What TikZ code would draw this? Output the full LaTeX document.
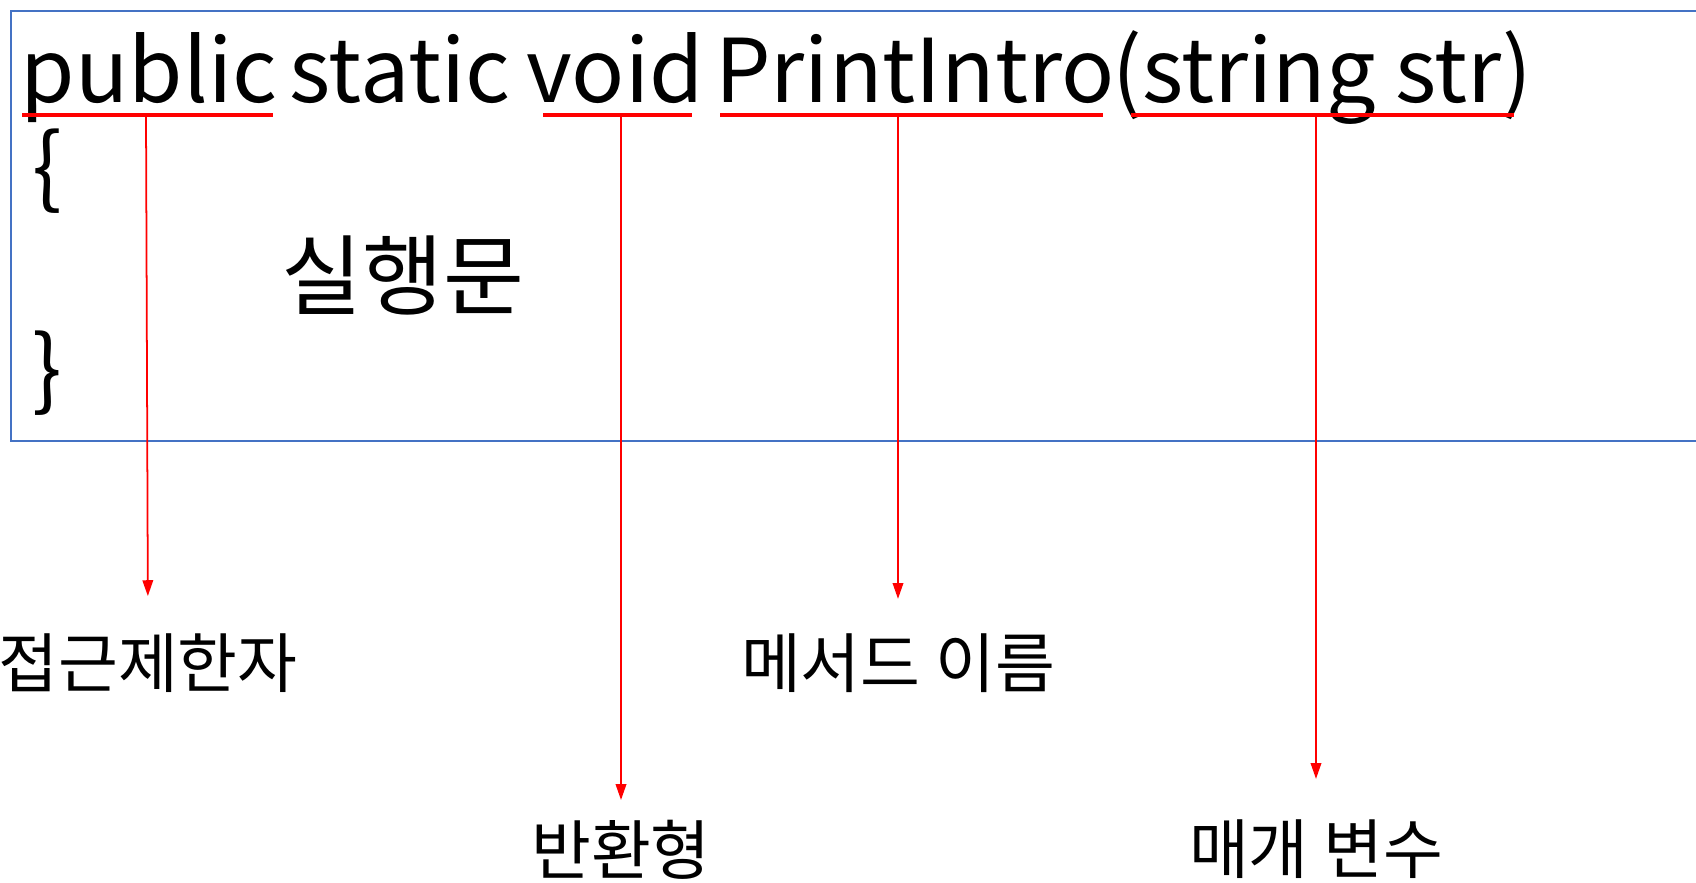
\documentclass[tikz,border=0pt]{standalone}
\usepackage{fontspec}
\setmainfont{Noto Sans CJK KR}
\usetikzlibrary{arrows.meta, positioning}
\definecolor{boxblue}{RGB}{68,114,196}
\definecolor{markred}{RGB}{255,0,0}

\begin{document}
\begin{tikzpicture}[x=0.01cm, y=-0.01cm,
    code/.style={font=\fontsize{25}{30}\selectfont, inner sep=0pt, anchor=base},
    term/.style={font=\fontsize{18.5}{22}\selectfont, inner sep=0pt, anchor=north},
    uline/.style={markred, line width=1.2pt},
    ptr/.style={markred, line width=0.5pt, -{Triangle[length=4.5pt, width=3pt]}}]
    \useasboundingbox (0,0) rectangle (1696,883);
    % code frame, open on the right
    \draw[boxblue, line width=0.6pt] (1696,11) -- (11,11) -- (11,441) -- (1696,441);
    % method header
    \node[code] (pub) at (149,103) {public};
    \node[code] (stat) at (400,103) {static};
    \node[code] (vd) at (615,103) {void};
    \node[code] (mname) at (915,103) {PrintIntro};
    \node[code] (par) at (1322,103) {(string str)};
    \node[code, anchor=base west] (lbr) at (32,199) {\{};
    \node[code, anchor=base west] (rbr) at (32,401) {\}};
    \node[font=\fontsize{25}{30}\selectfont, inner sep=0pt] (body) at (403,276) {실행문};
    % underlines
    \draw[uline] (22,115) -- (273,115);
    \draw[uline] (543,115) -- (692,115);
    \draw[uline] (720,115) -- (1103,115);
    \draw[uline] (1131,115) -- (1514,115);
    \coordinate (u1) at (146,115);
    \coordinate (u2) at (621,115);
    \coordinate (u3) at (898,115);
    \coordinate (u4) at (1316,115);
    % labels
    \node[term] (acc) at (148,633) {접근제한자};
    \node[term] (ret) at (621,819) {반환형};
    \node[term] (mlab) at (898,633) {메서드 이름};
    \node[term] (plab) at (1316,819) {매개 변수};
    \draw[ptr, shorten >=10.5pt] (u1) -- (acc.north);
    \draw[ptr, shorten >=5.4pt] (u2) -- (ret.north);
    \draw[ptr, shorten >=9.7pt] (u3) -- (mlab.north);
    \draw[ptr, shorten >=11.4pt] (u4) -- (plab.north);
\end{tikzpicture}
\end{document}
